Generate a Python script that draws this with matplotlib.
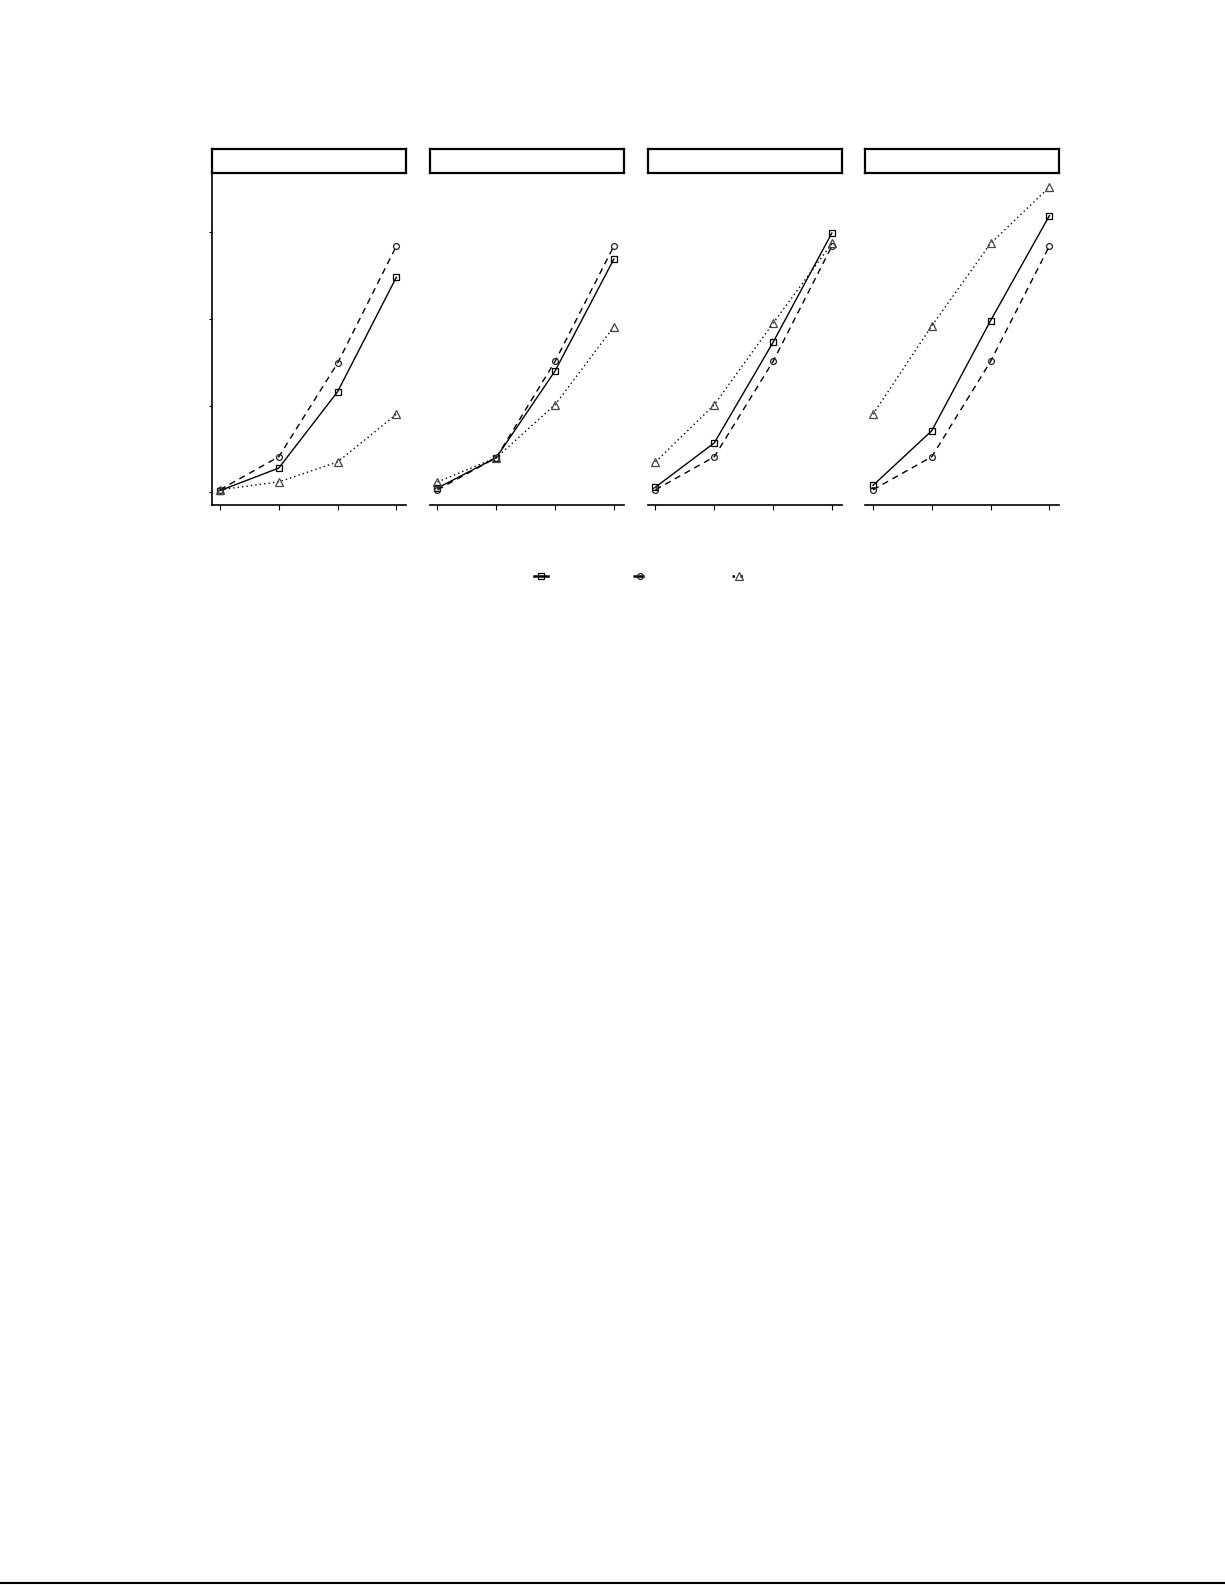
import matplotlib
matplotlib.use("Agg")
import matplotlib.pyplot as plt
from matplotlib.lines import Line2D
import numpy as np

# four panels, three series each (no labels shown)
x = [1, 2, 3, 4]
panels = ["p1", "p2", "p3", "p4"]

square = [
    [0.02, 0.28, 1.16, 2.48],
    [0.05, 0.40, 1.40, 2.69],
    [0.06, 0.57, 1.73, 2.99],
    [0.08, 0.71, 1.98, 3.19],
]
circle = [
    [0.03, 0.41, 1.49, 2.84],
    [0.03, 0.40, 1.51, 2.84],
    [0.03, 0.41, 1.51, 2.84],
    [0.03, 0.41, 1.51, 2.84],
]
triangle = [
    [0.03, 0.12, 0.35, 0.90],
    [0.12, 0.40, 1.01, 1.91],
    [0.35, 1.01, 1.95, 2.87],
    [0.90, 1.92, 2.87, 3.52],
]
y_ticks = [0, 1, 2, 3]

W, H = 1225, 1585
fig = plt.figure(figsize=(W / 100, H / 100), dpi=100)

lefts = [212, 429.5, 647.5, 865]
pw = 194
top_px, bot_px = 172.7, 505
strip_top = 149.3

styles = [
    dict(ls="-", marker="s", ms=4.2, lw=1.0, mec="black"),
    dict(ls=(0, (4.5, 3.5)), marker="o", ms=4.2, lw=1.0, mec="#222222"),
    dict(ls=(0, (1, 2.2)), marker="^", ms=6.0, lw=1.0, mec="#444444"),
]

for i, name in enumerate(panels):
    ax = fig.add_axes([lefts[i] / W, 1 - bot_px / H, pw / W, (bot_px - top_px) / H])
    for vals, st in zip([square[i], circle[i], triangle[i]], styles):
        ax.plot(x, vals, color="black", mfc="none", mew=0.9, **st)
    ax.set_xlim(0.864, 4.164)
    ax.set_ylim(-0.146, 3.686)
    ax.set_xticks(x)
    ax.set_xticklabels([])
    ax.spines["top"].set_visible(False)
    ax.spines["right"].set_visible(False)
    ax.spines["bottom"].set_linewidth(1.2)
    ax.tick_params(axis="x", direction="out", length=3.5, width=0.8)
    if i == 0:
        ax.set_yticks(y_ticks)
        ax.set_yticklabels([])
        ax.spines["left"].set_linewidth(1.2)
        ax.tick_params(axis="y", direction="out", length=2.5, width=0.8)
    else:
        ax.spines["left"].set_visible(False)
        ax.set_yticks([])

    sx = fig.add_axes([lefts[i] / W, 1 - top_px / H, pw / W, (top_px - strip_top) / H])
    sx.set_xticks([])
    sx.set_yticks([])
    for s in sx.spines.values():
        s.set_linewidth(1.6)

handles = [Line2D([], [], color="black", mfc="none", mew=0.9,
                  **{**st, "lw": 1.8}) for st in styles]
fig.legend(handles, ["", "", ""], loc="center", bbox_to_anchor=(640 / W, 1 - 577 / H),
           ncol=3, frameon=False, handlelength=1.0, handletextpad=0.0,
           columnspacing=6.1, fontsize=10)

fig.add_artist(Line2D([0, 1], [1 - 1583.3 / H] * 2, transform=fig.transFigure,
                      color="black", lw=1.5))

fig.savefig("out.png", dpi=100)
